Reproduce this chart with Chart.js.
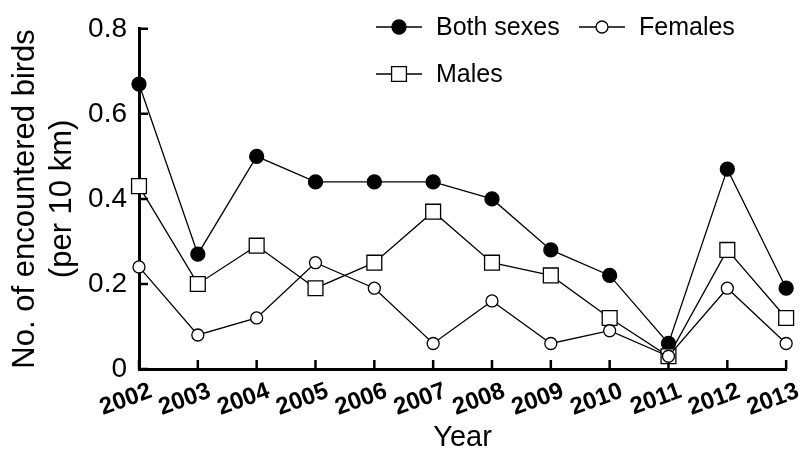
<!DOCTYPE html>
<html>
<head>
<meta charset="utf-8">
<script src="https://cdn.jsdelivr.net/npm/chart.js@4/dist/chart.umd.min.js"></script>
<style>
  html, body { margin: 0; padding: 0; background: #fff; }
  #wrap { width: 804px; height: 452px; position: relative; }
</style>
</head>
<body>
<div id="wrap"><canvas id="c" width="804" height="452"></canvas></div>
<script>
// Encounter rates of birds per 10 km, by year and sex
const years = ['2002', '2003', '2004', '2005', '2006', '2007', '2008', '2009', '2010', '2011', '2012', '2013'];
const bothSexes = [0.67, 0.27, 0.50, 0.44, 0.44, 0.44, 0.40, 0.28, 0.22, 0.06, 0.47, 0.19];
const females   = [0.24, 0.08, 0.12, 0.25, 0.19, 0.06, 0.16, 0.06, 0.09, 0.03, 0.19, 0.06];
const males     = [0.43, 0.20, 0.29, 0.19, 0.25, 0.37, 0.25, 0.22, 0.12, 0.03, 0.28, 0.12];
const yTicks    = [0, 0.2, 0.4, 0.6, 0.8];

const FONT = 'Arial, "Liberation Sans", Helvetica, sans-serif';
const TICK_LEN = 9;

// Short tick marks pointing into the plot area, drawn under the series
const inwardTicks = {
  id: 'inwardTicks',
  beforeDatasetsDraw(chart) {
    const ctx = chart.ctx;
    const area = chart.chartArea;
    const xs = chart.scales.x;
    const ys = chart.scales.y;
    ctx.save();
    ctx.strokeStyle = '#000';
    ctx.lineWidth = 2.5;
    ctx.beginPath();
    for (const v of yTicks) {
      const y = ys.getPixelForValue(v);
      ctx.moveTo(area.left, y);
      ctx.lineTo(area.left + TICK_LEN, y);
    }
    for (let i = 0; i < years.length; i++) {
      const x = xs.getPixelForTick(i);
      ctx.moveTo(x, area.bottom);
      ctx.lineTo(x, area.bottom - TICK_LEN);
    }
    ctx.stroke();
    ctx.restore();
  }
};

// Legend entries: a short line with the series marker in its middle
const lineLegend = {
  id: 'lineLegend',
  afterDraw(chart) {
    const ctx = chart.ctx;
    const entries = [
      { ds: 0, x: 376, y: 27 },
      { ds: 1, x: 579, y: 27 },
      { ds: 2, x: 376, y: 74 }
    ];
    ctx.save();
    for (const e of entries) {
      const d = chart.data.datasets[e.ds];
      ctx.strokeStyle = '#000';
      ctx.lineWidth = 1.3;
      ctx.beginPath();
      ctx.moveTo(e.x, e.y);
      ctx.lineTo(e.x + 46, e.y);
      ctx.stroke();
      ctx.fillStyle = d.pointBackgroundColor;
      ctx.strokeStyle = d.pointBorderColor;
      ctx.lineWidth = d.pointBorderWidth;
      Chart.helpers.drawPoint(ctx, {
        pointStyle: d.pointStyle, radius: d.pointRadius, rotation: 0,
        borderWidth: d.pointBorderWidth
      }, e.x + 23, e.y);
      ctx.fillStyle = '#000';
      ctx.font = '25px ' + FONT;
      ctx.textBaseline = 'middle';
      ctx.textAlign = 'left';
      ctx.fillText(d.label, e.x + 60, e.y + 1);
    }
    ctx.restore();
  }
};

new Chart(document.getElementById('c'), {
  type: 'line',
  data: {
    labels: years,
    datasets: [
      {
        label: 'Both sexes', data: bothSexes, order: 2,
        borderColor: '#000', borderWidth: 1.3,
        pointStyle: 'circle', pointRadius: 7, pointBackgroundColor: '#000',
        pointBorderColor: '#000', pointBorderWidth: 1.3, clip: false
      },
      {
        label: 'Females', data: females, order: 0,
        borderColor: '#000', borderWidth: 1.3,
        pointStyle: 'circle', pointRadius: 6, pointBackgroundColor: '#fff',
        pointBorderColor: '#000', pointBorderWidth: 1.3, clip: false
      },
      {
        label: 'Males', data: males, order: 1,
        borderColor: '#000', borderWidth: 1.3,
        pointStyle: 'rect', pointRadius: 10.5, pointBackgroundColor: '#fff',
        pointBorderColor: '#000', pointBorderWidth: 1.3, clip: false
      }
    ]
  },
  options: {
    responsive: false,
    animation: false,
    events: [],
    layout: { padding: { top: 24, right: 7, left: 0, bottom: 0 } },
    plugins: { legend: { display: false }, tooltip: { enabled: false } },
    elements: { line: { tension: 0 } },
    scales: {
      x: {
        type: 'category',
        offset: false,
        grid: { display: false, drawTicks: false },
        border: { display: true, color: '#000', width: 3 },
        ticks: {
          color: '#000', font: { family: FONT, size: 24, weight: 'bold' },
          minRotation: 20, maxRotation: 20, padding: 8, labelOffset: 12, autoSkip: false
        },
        title: {
          display: true, text: 'Year', color: '#000',
          font: { family: FONT, size: 29, lineHeight: 1 }, padding: 0
        },
        afterFit(scale) { scale.height = 83; }
      },
      y: {
        min: 0, max: 0.8,
        grid: { display: false, drawTicks: false },
        border: { display: true, color: '#000', width: 3 },
        afterBuildTicks(scale) { scale.ticks = yTicks.map(v => ({ value: v })); },
        ticks: {
          color: '#000', font: { family: FONT, size: 28 }, padding: 12,
          callback: v => (v === 0 ? '0' : v.toFixed(1))
        },
        title: {
          display: true, text: ['No. of encountered birds', '(per 10 km)'], color: '#000',
          font: { family: FONT, size: 31, lineHeight: 1.2 }, padding: { top: 7, bottom: 0 }
        },
        afterFit(scale) { scale.width = 139; }
      }
    }
  },
  plugins: [inwardTicks, lineLegend]
});
</script>
</body>
</html>
